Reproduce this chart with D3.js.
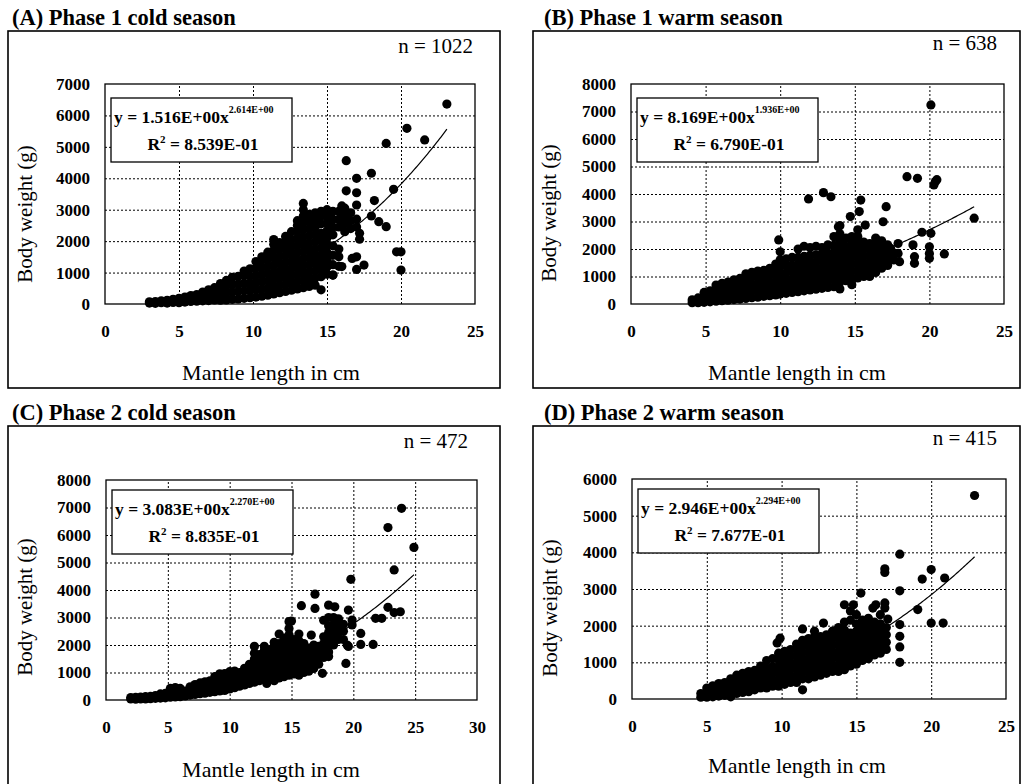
<!DOCTYPE html>
<html>
<head>
<meta charset="utf-8">
<script src="https://cdn.jsdelivr.net/npm/d3@7"></script>
<style>
body { margin: 0; background: #fff; }
text { font-family: "Liberation Serif", "Times New Roman", serif; fill: #000; }
.tick text { font-weight: bold; font-size: 17px; }
.grid line { stroke: #000; stroke-width: 1; stroke-dasharray: 2,2; }
</style>
</head>
<body>
<script>
// values: [x, [y, y, ...]] columns of the dense cloud, then stray points
var colsA = [[3.0,[30,70]],[3.4,[20,80]],[3.8,[40,100]],[4.2,[30,120]],[4.6,[50,150]],[5.0,[40,180]],[5.4,[60,220]],
  [5.8,[80,270]],[6.2,[90,300]],[6.6,[100,250,380]],[7.0,[110,300,450]],[7.4,[130,330,520]],[7.8,[120,320,520,650]],
  [8.2,[130,350,570,750]],[8.6,[150,380,610,850]],[9.0,[160,400,640,880]],[9.4,[180,420,660,900,1050]],
  [9.8,[200,430,660,890,1120]],[10.2,[220,450,680,910,1140,1350]],[10.6,[250,480,710,940,1170,1400,1500]],
  [11.0,[280,510,740,970,1200,1430,1650]],[11.4,[320,550,780,1010,1240,1470,1700,1900,2050]],
  [11.8,[360,590,820,1050,1280,1510,1740,1950]],[12.2,[400,630,860,1090,1320,1550,1780,2000,2150]],
  [12.6,[440,670,900,1130,1360,1590,1820,2050,2300]],[13.0,[480,710,940,1170,1400,1630,1860,2090,2320,2500,2650]],
  [13.4,[520,750,980,1210,1440,1670,1900,2130,2360,2590,2800,3000,3200]],
  [13.8,[560,790,1020,1250,1480,1710,1940,2170,2400,2630,2850]],
  [14.2,[600,830,1060,1290,1520,1750,1980,2210,2440,2670,2900]],
  [14.6,[450,870,1100,1330,1560,1790,2020,2250,2550,2800,2950]],
  [15.0,[950,1180,1410,1640,1870,2100,2330,2560,2790,3000]],[15.4,[920,1250,1550,1850,2200,2450,2700,2950]],
  [15.8,[1200,1500,1750,2450,2700,2950]],[16.2,[2300,2550,2800,3050]],[16.6,[2400,2650,2900]],[17.0,[2450,2700]]];
var strayA = [[23.1,6360],[20.4,5590],[21.6,5220],[19.0,5110],[16.3,4560],[17.0,4000],[18.0,4160],[16.3,3600],
  [17.0,3540],[18.2,3290],[17.0,3150],[19.5,3650],[16.0,3120],[18.0,2800],[18.5,2620],[19.0,2460],[17.2,2250],
  [17.2,2060],[19.7,1660],[20.0,1660],[20.0,1080],[16.7,1450],[17.0,1500],[17.5,1240],[17.0,1100],[16.0,1190],[15.4,920]];

var colsB = [[4.1,[50,150]],[4.5,[50,220]],[4.9,[60,260,420]],[5.3,[80,300,480]],[5.7,[100,330,560,690]],
  [6.1,[120,360,580,750]],[6.5,[140,380,620,800]],[6.9,[160,400,650,880]],[7.3,[180,430,680,930]],
  [7.7,[200,450,700,950,1100]],[8.1,[230,480,730,980,1150]],[8.5,[250,500,750,1000,1200]],
  [8.9,[280,530,780,1030,1220]],[9.3,[300,550,800,1050,1300]],[9.7,[330,580,830,1080,1330,1450]],
  [10.0,[360,610,860,1110,1360,1610,1900]],[10.4,[390,640,890,1140,1390,1640]],[10.8,[420,670,920,1170,1420,1700]],
  [11.2,[450,700,950,1200,1450,1700,2000]],[11.6,[480,730,980,1230,1480,1730,2100]],
  [12.0,[510,760,1010,1260,1510,1760,2050]],[12.4,[540,790,1040,1290,1540,1790,2100]],
  [12.8,[570,820,1070,1320,1570,1820,2050]],[13.2,[600,850,1100,1350,1600,1850,2150]],
  [13.6,[630,880,1130,1380,1630,1880,2130,2450]],[14.0,[550,800,1050,1300,1550,1800,2050,2300,2550,2850]],
  [14.4,[850,1100,1350,1600,1850,2100,2400]],[14.8,[700,950,1200,1450,1700,1950,2200,2450]],
  [15.2,[950,1200,1450,1700,1950,2200,2450,2700]],[15.6,[1000,1250,1500,1750,2000,2250]],
  [16.0,[1000,1250,1500,1750,2000,2200]],[16.4,[1150,1400,1650,1900,2150,2400]],
  [16.8,[1300,1550,1800,2050,2300]],[17.2,[1400,1650,1900,2150]],[17.6,[1600,1850]]];
var strayB = [[20.1,7240],[18.5,4630],[19.2,4570],[20.4,4450],[20.5,4520],[20.3,4330],[11.9,3820],[12.9,4050],
  [13.4,3900],[15.4,3780],[17.1,3540],[15.3,3360],[14.7,3180],[15.7,2870],[16.9,2990],[13.9,2810],[23.0,3120],
  [19.5,2610],[20.1,2570],[21.0,1820],[18.9,2150],[19.0,1720],[19.0,1480],[20.0,2080],[20.0,1840],[20.0,1660],
  [17.9,2200],[17.9,1840],[18.0,1540],[9.9,2330],[17.4,2020]];

var colsC = [[2.0,[40,90]],[2.4,[30,100]],[2.8,[40,110]],[3.2,[40,120]],[3.6,[50,130]],[4.0,[60,160]],
  [4.4,[70,220]],[4.8,[80,240]],[5.2,[100,260,420]],[5.6,[110,300,450]],[6.0,[120,300,420]],[6.4,[150,320]],
  [6.8,[180,350,480]],[7.2,[200,400,560]],[7.6,[230,430,620]],[8.0,[250,460,660]],[8.4,[280,490,700]],
  [8.8,[300,510,720,850]],[9.2,[330,540,750,950]],[9.6,[350,560,770,960]],[10.0,[400,610,820,1030]],
  [10.4,[450,660,870,1050]],[10.8,[500,710,920,1000]],[11.2,[550,760,970,1150]],[11.6,[600,810,1020,1230,1300]],
  [12.0,[650,860,1070,1280,1490,1700,1950]],[12.4,[700,910,1120,1330,1540,1650]],
  [12.8,[750,960,1170,1380,1590,1800,1950]],[13.2,[780,990,1200,1410,1620,1830]],
  [13.6,[700,910,1120,1330,1540,1750,1960,2100]],[14.0,[800,1010,1220,1430,1640,1850,2050,2400]],
  [14.4,[850,1060,1270,1480,1690,1900,2100,2250]],[14.8,[900,1110,1320,1530,1740,1950,2160,2370,2600,2850]],
  [15.2,[950,1160,1370,1580,1790,2000,2200]],[15.6,[900,1110,1320,1530,1740,1950,2150,2400]],
  [16.0,[1000,1210,1420,1630,1840,2050]],[16.4,[1050,1260,1470,1680,1890]],[16.8,[1150,1360,1570,1780,2000]],
  [17.2,[1300,1510,1720,1950]],[17.6,[1550,1760,2050,2300,2900]],[18.0,[1750,1960,2200,2450,2700,3000]],
  [18.4,[2000,2250,2500,2750,3000]],[18.8,[2200,2450,2700,2950]],[19.2,[2200,2500,2750]],[19.6,[1950]]];
var strayC = [[23.9,6970],[22.8,6270],[24.9,5550],[23.3,4730],[19.8,4390],[16.9,3850],[15.8,3430],[16.9,3330],
  [18.0,3450],[18.5,3390],[19.6,3270],[19.9,2910],[19.9,2730],[22.8,3370],[23.3,3180],[23.8,3210],[21.8,2970],
  [22.3,2970],[20.6,2420],[20.6,2020],[21.6,2020],[19.4,1330],[19.5,2000],[18.0,1580],[17.5,970],[16.6,2360],
  [18.5,2300],[15.0,2870],[13.0,600]];

var colsD = [[4.6,[50,150]],[5.0,[50,200,300]],[5.4,[60,220,360]],[5.8,[80,250,420]],[6.2,[100,280,450]],
  [6.6,[60,250,420,550]],[7.0,[150,320,500,650]],[7.4,[180,350,520,700]],[7.8,[200,380,560,750]],
  [8.2,[250,420,600,780]],[8.6,[300,470,640,820,900]],[9.0,[300,480,660,840,1050]],[9.4,[350,520,700,880,1100]],
  [9.8,[350,530,710,890,1070,1250]],[10.2,[400,580,760,940,1120,1300]],[10.6,[450,630,810,990,1170,1350]],
  [11.0,[450,630,810,990,1170,1350,1500]],[11.4,[250,550,730,910,1090,1270,1450,1600]],
  [11.8,[550,730,910,1090,1270,1450,1650]],[12.2,[600,780,960,1140,1320,1500,1700,1850]],
  [12.6,[650,830,1010,1190,1370,1550,1700]],[13.0,[700,880,1060,1240,1420,1600,1750]],
  [13.4,[750,930,1110,1290,1470,1650,1850]],[13.8,[750,930,1110,1290,1470,1650,1800,1950]],
  [14.2,[800,980,1160,1340,1520,1700,1880,2100]],[14.6,[900,1080,1260,1440,1620,1800,2150,2400]],
  [15.0,[950,1130,1310,1490,1670,1850,2050,2300]],[15.4,[1050,1230,1410,1590,1770,1950,2150]],
  [15.8,[1100,1280,1460,1640,1820,2000,2200]],[16.2,[1200,1380,1560,1740,1920,2100]],
  [16.6,[1250,1450,1650,1850,2050,2300]],[17.0,[1350,1550,1750,1950]]];
var strayD = [[22.9,5550],[17.9,3950],[16.9,3550],[16.9,3450],[20.0,3530],[19.4,3270],[20.9,3300],[15.3,2890],
  [17.9,2950],[19.1,2440],[20.0,2070],[20.8,2070],[17.9,2030],[17.9,1710],[17.9,1420],[17.9,1000],[12.8,2070],
  [11.4,1910],[9.9,1660],[9.7,1530],[17.1,2180],[16.9,2620],[16.9,2480],[16.1,2480],[16.3,2570],[14.2,2570],[14.8,2570]];

var titles = ["(A) Phase 1 cold season", "(B) Phase 1 warm season", "(C) Phase 2 cold season", "(D) Phase 2 warm season"];
var counts = [1022, 638, 472, 415];
var coefA = ["1.516E+00", "8.169E+00", "3.083E+00", "2.946E+00"];
var coefB = ["2.614E+00", "1.936E+00", "2.270E+00", "2.294E+00"];
var rSquared = ["8.539E-01", "6.790E-01", "8.835E-01", "7.677E-01"];
var xTicks25 = [0, 5, 10, 15, 20, 25];
var xTicks30 = [0, 5, 10, 15, 20, 25, 30];
var yTicks6 = [0, 1000, 2000, 3000, 4000, 5000, 6000];
var yTicks7 = [0, 1000, 2000, 3000, 4000, 5000, 6000, 7000];
var yTicks8 = [0, 1000, 2000, 3000, 4000, 5000, 6000, 7000, 8000];

var svg = d3.select("body").append("svg")
    .attr("width", 1022)
    .attr("height", 784);

var panels = [
    {i: 0, cols: colsA, stray: strayA, xTicks: xTicks25, yTicks: yTicks7, frame: [8, 31, 492, 357], plot: [105, 84, 370, 220], title: [12, 25], n: [473, 53], yLab: [25, 214], xLab: [271, 380], boxDy: 14},
    {i: 1, cols: colsB, stray: strayB, xTicks: xTicks25, yTicks: yTicks8, frame: [533, 31, 487, 357], plot: [631, 84, 373, 220], title: [544, 25], n: [997, 50], yLab: [549, 213], xLab: [797, 380], boxDy: 14},
    {i: 2, cols: colsC, stray: strayC, xTicks: xTicks30, yTicks: yTicks8, frame: [8, 426, 492, 400], plot: [106, 480, 371, 220], title: [12, 420], n: [468, 448], yLab: [25, 607], xLab: [271, 777], boxDy: 10},
    {i: 3, cols: colsD, stray: strayD, xTicks: xTicks25, yTicks: yTicks6, frame: [533, 426, 487, 400], plot: [632, 479, 374, 220], title: [544, 420], n: [997, 445], yLab: [550, 608], xLab: [797, 773], boxDy: 10}
];

function drawPanel(p) {
    var g = svg.append("g");
    var points = [];
    p.cols.forEach(c => c[1].forEach(v => points.push([c[0], v])));
    points = points.concat(p.stray);

    g.append("rect")
        .attr("x", p.frame[0]).attr("y", p.frame[1])
        .attr("width", p.frame[2]).attr("height", p.frame[3])
        .attr("fill", "none").attr("stroke", "#000").attr("stroke-width", 1.6);

    g.append("text")
        .attr("x", p.title[0]).attr("y", p.title[1])
        .attr("font-size", 22.5).attr("font-weight", "bold")
        .text(titles[p.i]);

    g.append("text")
        .attr("x", p.n[0]).attr("y", p.n[1])
        .attr("text-anchor", "end").attr("font-size", 21)
        .text("n = " + counts[p.i]);

    var x = d3.scaleLinear()
        .domain([0, d3.max(p.xTicks)])
        .range([p.plot[0], p.plot[0] + p.plot[2]]);
    var y = d3.scaleLinear()
        .domain([0, d3.max(p.yTicks)])
        .range([p.plot[1] + p.plot[3], p.plot[1]]);

    g.append("g").attr("class", "grid")
        .attr("transform", "translate(0," + y(0) + ")")
        .call(d3.axisBottom(x).tickValues(p.xTicks.slice(1, -1)).tickSize(-p.plot[3]).tickFormat(""))
        .call(a => a.select(".domain").remove());
    g.append("g").attr("class", "grid")
        .attr("transform", "translate(" + x(0) + ",0)")
        .call(d3.axisLeft(y).tickValues(p.yTicks.slice(1, -1)).tickSize(-p.plot[2]).tickFormat(""))
        .call(a => a.select(".domain").remove());

    g.append("g")
        .attr("transform", "translate(0," + y(0) + ")")
        .call(d3.axisBottom(x).tickValues(p.xTicks).tickSize(0).tickPadding(21))
        .call(a => a.select(".domain").remove());
    g.append("g")
        .attr("transform", "translate(" + x(0) + ",0)")
        .call(d3.axisLeft(y).tickValues(p.yTicks).tickSize(0).tickPadding(15).tickFormat(d3.format("d")))
        .call(a => a.select(".domain").remove());

    g.append("g").selectAll("circle")
        .data(points)
        .enter().append("circle")
        .attr("cx", d => x(d[0]))
        .attr("cy", d => y(d[1]))
        .attr("r", 4.6)
        .attr("fill", "#000");

    // fitted power curve y = a * x^b over the data range
    var a = +coefA[p.i], b = +coefB[p.i];
    var ext = d3.extent(points, d => d[0]);
    var line = d3.line().x(d => x(d)).y(d => y(a * Math.pow(d, b)));
    g.append("path")
        .datum(d3.range(ext[0], ext[1] + 0.05, 0.1))
        .attr("d", line)
        .attr("fill", "none").attr("stroke", "#000").attr("stroke-width", 1.2);

    g.append("rect")
        .attr("x", p.plot[0]).attr("y", p.plot[1])
        .attr("width", p.plot[2]).attr("height", p.plot[3])
        .attr("fill", "none").attr("stroke", "#000").attr("stroke-width", 1.3);

    var bx = p.plot[0] + 6, by = p.plot[1] + p.boxDy;
    g.append("rect")
        .attr("x", bx).attr("y", by)
        .attr("width", 181).attr("height", 64)
        .attr("fill", "#fff").attr("stroke", "#000").attr("stroke-width", 1.3);
    var eq = g.append("text")
        .attr("x", bx + 3).attr("y", by + 25)
        .attr("font-size", 17.5).attr("font-weight", "bold");
    eq.append("tspan").text("y = " + coefA[p.i] + "x");
    eq.append("tspan").attr("dy", -10).attr("font-size", 10).text(coefB[p.i]);
    var r2 = g.append("text")
        .attr("x", bx + 92).attr("y", by + 52)
        .attr("text-anchor", "middle")
        .attr("font-size", 17.5).attr("font-weight", "bold");
    r2.append("tspan").text("R");
    r2.append("tspan").attr("dy", -7).attr("font-size", 11).text("2");
    r2.append("tspan").attr("dy", 7).text(" = " + rSquared[p.i]);

    g.append("text")
        .attr("transform", "translate(" + p.yLab[0] + "," + p.yLab[1] + ") rotate(-90)")
        .attr("text-anchor", "middle").attr("dy", "0.35em")
        .attr("font-size", 21)
        .text("Body weight (g)");
    g.append("text")
        .attr("x", p.xLab[0]).attr("y", p.xLab[1])
        .attr("text-anchor", "middle")
        .attr("font-size", 22)
        .text("Mantle length in cm");
}

panels.forEach(drawPanel);
</script>
</body>
</html>
